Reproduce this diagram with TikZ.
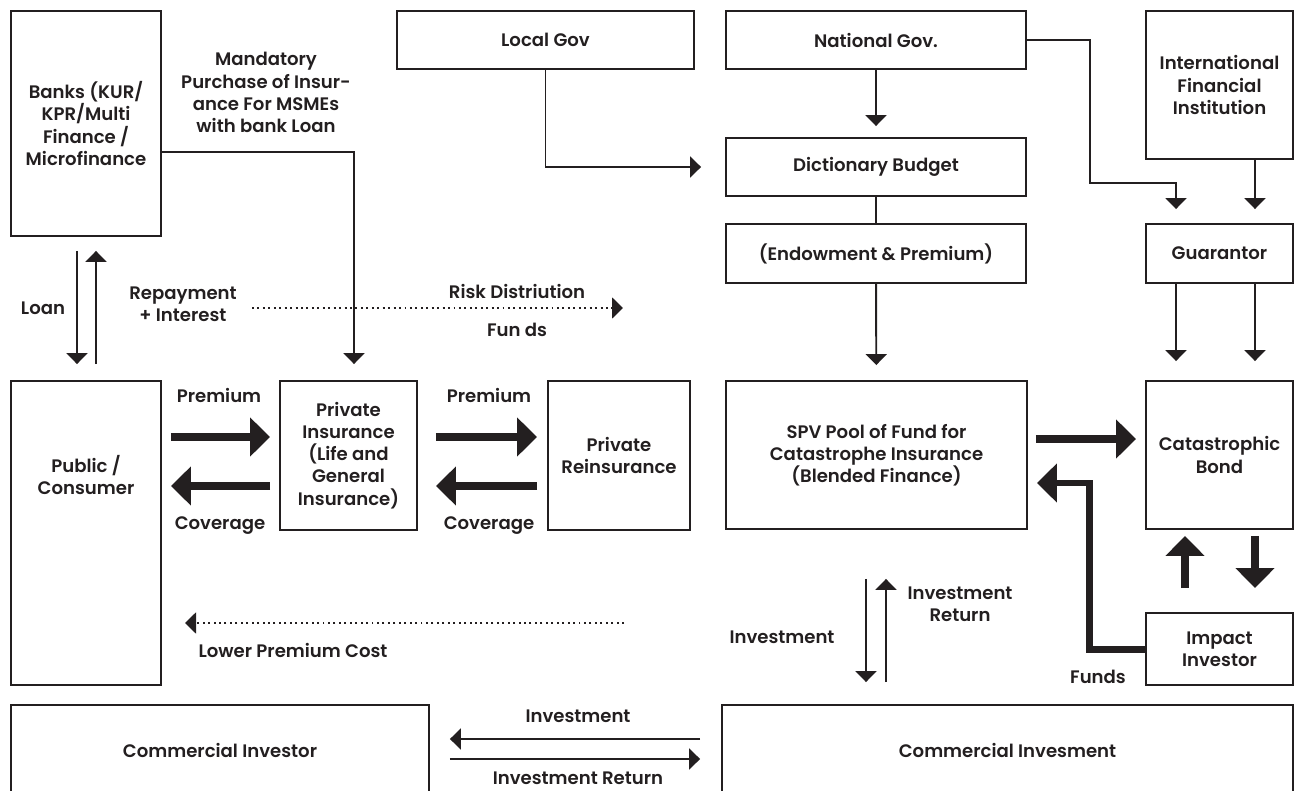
\documentclass[tikz,border=0pt]{standalone}
\usepackage{fontspec}
\setmainfont{Poppins SemiBold}
\usetikzlibrary{arrows.meta}
\definecolor{ink}{HTML}{231F20}

\begin{document}
\begin{tikzpicture}[x=0.02cm, y=-0.02cm,
  font=\fontsize{10.3}{12.6}\selectfont,
  box/.style={draw=ink, line width=1.1pt, align=center, inner sep=0pt, text=ink},
  lbl/.style={align=center, inner sep=0pt, text=ink},
  arr/.style={draw=ink, line width=1.1pt, -{Triangle[length=0.22cm,width=0.42cm]}},
  fat/.style={draw=ink, line width=0.16cm, -{Triangle[length=0.4cm,width=0.76cm]}},
  dots/.style={arr, dotted}]
\useasboundingbox (0,0) rectangle (1295,791);
% boxes
\node[box, minimum width=3cm, minimum height=4.5cm] (banks) at (86,123.5) {Banks (KUR/\\KPR/Multi\\Finance /\\Microfinance};
\node[box, minimum width=5.94cm, minimum height=1.16cm] (localgov) at (545.5,40) {Local Gov};
\node[box, minimum width=6cm, minimum height=1.16cm] (natgov) at (876,40) {National Gov.};
\node[box, minimum width=2.94cm, minimum height=2.96cm] (ifi) at (1219.5,85) {International\\Financial\\Institution};
\node[box, minimum width=6cm, minimum height=1.16cm] (budget) at (876,167) {Dictionary Budget};
\node[box, minimum width=6cm, minimum height=1.18cm] (endow) at (876,253.5) {(Endowment \& Premium)};
\node[box, minimum width=2.94cm, minimum height=1.18cm] (guarantor) at (1219.5,253.5) {Guarantor};
\node[box, minimum width=3cm, minimum height=6.08cm] (public) at (86,533) {};
\node[lbl] (publictxt) at (86,475) {Public /\\Consumer};
\node[box, minimum width=2.74cm, minimum height=2.98cm] (privins) at (348.5,455.5) {Private\\Insurance\\(Life and\\General\\Insurance)};
\node[box, minimum width=2.84cm, minimum height=2.98cm] (reins) at (619,455.5) {Private\\Reinsurance};
\node[box, minimum width=6.02cm, minimum height=2.96cm] (spv) at (876.5,455) {SPV Pool of Fund for\\Catastrophe Insurance\\(Blended Finance)};
\node[box, minimum width=2.94cm, minimum height=2.96cm] (catbond) at (1219.5,455) {Catastrophic\\Bond};
\node[box, minimum width=2.94cm, minimum height=1.44cm] (impact) at (1219.5,649) {Impact\\Investor};
\node[box, minimum width=8.36cm, minimum height=1.8cm] (comminv) at (220,750) {Commercial Investor};
\node[box, minimum width=11.42cm, minimum height=1.8cm] (commis) at (1007.5,750) {Commercial Invesment};
% labels
\node[lbl] (mandatory) at (266,92.5) {Mandatory\\Purchase of Insur-\\ance For MSMEs\\with bank Loan};
\node[lbl] (loan) at (43,308) {Loan};
\node[lbl] (repay) at (183,304) {Repayment\\+ Interest};
\node[lbl] (risk) at (517,291) {Risk Distriution};
\node[lbl] (funds1) at (517,330) {Fun ds};
\node[lbl] (prem1) at (219,395) {Premium};
\node[lbl] (prem2) at (489,395) {Premium};
\node[lbl] (cov1) at (220,526) {Coverage};
\node[lbl] (cov2) at (489,526) {Coverage};
\node[lbl] (lower) at (293,650) {Lower Premium Cost};
\node[lbl] (invest1) at (782,637) {Investment};
\node[lbl] (return1) at (960,604) {Investment\\Return};
\node[lbl] (funds2) at (1098,677) {Funds};
\node[lbl] (invest2) at (578,716) {Investment};
\node[lbl] (return2) at (578,778) {Investment Return};
\coordinate (riskfrom) at (252,308);
\coordinate (riskto) at (623,308);
\coordinate (lowerfrom) at (624,623);
\coordinate (lowerto) at (185,623);
% thin connectors
\draw[arr, shorten >=0.48cm] (localgov.south) |- (budget.west);
\draw[arr, shorten >=0.22cm] (natgov) -- (budget);
\draw[draw=ink, line width=1.1pt] (budget) -- (endow);
\draw[arr, shorten >=0.3cm] (endow) -- (spv);
\draw[arr, shorten >=0.28cm] (natgov.east) -| (1090,183) -| ([xshift=-0.87cm]guarantor.north);
\draw[arr, shorten >=0.28cm] ([xshift=0.71cm]ifi.south) -- ([xshift=0.71cm]guarantor.north);
\draw[arr, shorten >=0.38cm] ([xshift=-0.87cm]guarantor.south) -- ([xshift=-0.87cm]catbond.north);
\draw[arr, shorten >=0.38cm] ([xshift=0.71cm]guarantor.south) -- ([xshift=0.71cm]catbond.north);
\draw[arr, shorten >=0.32cm] ([yshift=-0.57cm]banks.east) -| ([xshift=0.11cm]privins.north);
\draw[arr, shorten <=0.28cm, shorten >=0.32cm] ([xshift=-0.18cm]banks.south) -- ([xshift=-0.18cm]public.north);
\draw[arr, shorten <=0.32cm, shorten >=0.28cm] ([xshift=0.2cm]public.north) -- ([xshift=0.2cm]banks.south);
\draw[dots] (riskfrom) -- (riskto);
\draw[dots] (lowerfrom) -- (lowerto);
\draw[arr, shorten <=0.98cm, shorten >=0.44cm] ([xshift=-0.21cm]spv.south) -- ([xshift=-0.21cm]spv.south |- commis.north);
\draw[arr, shorten <=0.44cm, shorten >=0.98cm] ([xshift=0.19cm]spv.south |- commis.north) -- ([xshift=0.19cm]spv.south);
\draw[arr, shorten <=0.42cm, shorten >=0.4cm] ([yshift=0.22cm]commis.west) -- ([yshift=0.22cm]comminv.east);
\draw[arr, shorten <=0.4cm, shorten >=0.42cm] ([yshift=-0.18cm]comminv.east) -- ([yshift=-0.18cm]commis.west);
% thick connectors
\draw[fat, shorten <=0.18cm, shorten >=0.18cm] ([yshift=0.37cm]public.east |- privins.center) -- ([yshift=0.37cm]privins.west);
\draw[fat, shorten <=0.18cm, shorten >=0.18cm] ([yshift=-0.61cm]privins.west) -- ([yshift=-0.61cm]public.east |- privins.center);
\draw[fat, shorten <=0.36cm, shorten >=0.2cm] ([yshift=0.37cm]privins.east) -- ([yshift=0.37cm]reins.west);
\draw[fat, shorten <=0.2cm, shorten >=0.36cm] ([yshift=-0.61cm]reins.west) -- ([yshift=-0.61cm]privins.east);
\draw[fat, shorten <=0.16cm, shorten >=0.18cm] ([yshift=0.32cm]spv.east) -- ([yshift=0.32cm]catbond.west);
\draw[fat, line width=0.14cm, shorten >=0.18cm] (impact.west) -- ++(-56,0) |- ([yshift=-0.56cm]spv.east);
\draw[fat, shorten <=0.48cm, shorten >=0.12cm] ([xshift=-0.69cm]impact.north) -- ([xshift=-0.69cm]catbond.south);
\draw[fat, shorten <=0.12cm, shorten >=0.48cm] ([xshift=0.71cm]catbond.south) -- ([xshift=0.71cm]impact.north);
\end{tikzpicture}
\end{document}
